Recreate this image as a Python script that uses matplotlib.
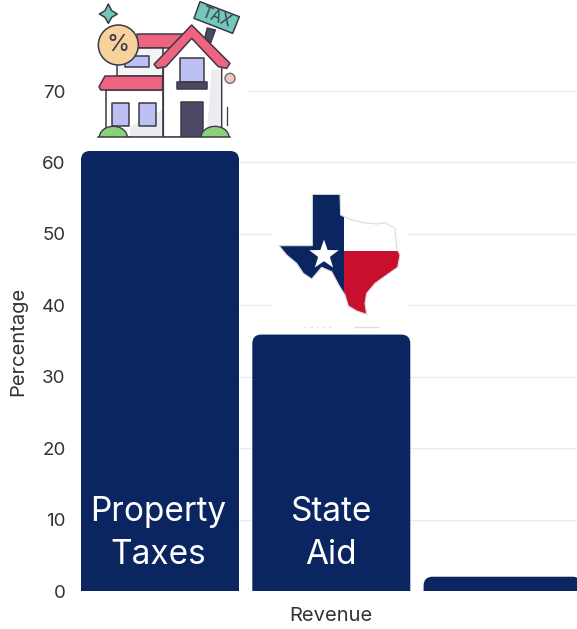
#!/usr/bin/env python3

import numpy as np
import matplotlib
matplotlib.use('Agg')
import matplotlib.pyplot as plt
from matplotlib.path import Path
from matplotlib.patches import PathPatch, Polygon, Rectangle, Circle, Ellipse

plt.rcParams['font.family'] = ['Inter', 'DejaVu Sans']

categories = ['Property\nTaxes', 'State\nAid', '']
values = [61.6, 35.9, 2.0]
y_ticks = [0, 10, 20, 30, 40, 50, 60, 70]

NAVY = '#0b2560'
INK = '#3a3a48'
PINK = '#f0637f'
LILAC = '#bcc0f2'
TEAL = '#72c9ba'
GREEN = '#8dd07c'


def rounded_top_bar(x, height, width, rx, ry):
    # bar path with only the two top corners rounded, in data units
    left, right = x - width / 2, x + width / 2
    ry = min(ry, height)
    verts = [(left, 0), (left, height - ry), (left, height), (left + rx, height),
             (right - rx, height), (right, height), (right, height - ry),
             (right, 0), (left, 0)]
    codes = [Path.MOVETO, Path.LINETO, Path.CURVE3, Path.CURVE3,
             Path.LINETO, Path.CURVE3, Path.CURVE3,
             Path.LINETO, Path.CLOSEPOLY]
    return Path(verts, codes)


def draw_house(ov):
    # icon drawn on a 3x grid, shifted into place
    def p(pts):
        return [(80 + a / 3, b / 3) for a, b in pts]

    def box(x0, y0, x1, y1):
        return p([(x0, y0), (x1, y0), (x1, y1), (x0, y1)])

    def shape(pts, fc, lw=1.1, ec=INK):
        ov.add_patch(Polygon(pts, closed=True, fc=fc, ec=ec, lw=lw, joinstyle='round'))

    # white block hiding the gridline behind the icon
    ov.add_patch(Rectangle((66, 0), 182, 150, fc='white', ec='none'))

    shape(p([(85, 12), (95, 32), (112, 42), (95, 52), (85, 70), (75, 52), (58, 42), (75, 32)]), TEAL)
    shape(box(170, 103, 310, 145), PINK)
    shape(box(110, 145, 250, 228), '#f4f4f6')
    shape(box(135, 168, 208, 200), LILAC)
    shape(box(78, 270, 248, 412), 'white')
    ov.add_patch(Polygon(p([(150, 380), (246, 330), (246, 410), (150, 410)]), fc='#ececf0', ec='none'))
    shape(p([(75, 228), (248, 228), (248, 270), (62, 270), (57, 260)]), PINK)
    shape(box(97, 308, 147, 378), LILAC)
    shape(box(178, 308, 228, 378), LILAC)

    # post and tilted sign
    shape(p([(382, 84), (406, 90), (392, 128), (372, 122)]), '#4a4a5e')
    shape(p([(360, 5), (478, 50), (458, 100), (342, 55)]), TEAL)
    ov.text(80 + 410 / 3, 52 / 3, 'TAX', rotation=-21, ha='center', va='center',
            fontsize=11, color=INK)

    shape(p([(250, 195), (335, 110), (425, 200), (425, 412), (250, 412)]), 'white')
    ov.add_patch(Polygon(p([(395, 210), (423, 205), (423, 410), (380, 410)]), fc='#ececf0', ec='none'))
    shape(p([(222, 193), (335, 75), (450, 190), (440, 205), (415, 200), (335, 115), (258, 200), (232, 205)]), PINK)
    shape(box(300, 175, 372, 245), LILAC)
    shape(box(290, 245, 382, 267), '#4a4a5e')
    shape(box(302, 305, 370, 412), '#4d4863')

    # bushes, cut flat by the ground
    for cx in [100, 405]:
        ov.add_patch(Ellipse((80 + cx / 3, 412 / 3), 84 / 3, 66 / 3, fc=GREEN, ec=INK, lw=1.0))
    ov.add_patch(Rectangle((80 + 50 / 3, 412 / 3), 410 / 3, 36 / 3, fc='white', ec='none'))
    ov.plot([80 + 55 / 3, 80 + 450 / 3], [412 / 3, 412 / 3], color=INK, lw=1.1)
    ov.plot([80 + 440 / 3] * 2, [320 / 3, 375 / 3], color=INK, lw=0.9)
    ov.add_patch(Circle((80 + 450 / 3, 235 / 3), 5, fc='#efc9c0', ec='#777', lw=1.1))

    # percent badge
    ov.add_patch(Circle((80 + 115 / 3, 135 / 3), 20, fc='#f8d29c', ec=INK, lw=1.1, zorder=3))
    ov.text(80 + 115 / 3, 135 / 3, '%', ha='center', va='center', fontsize=17,
            color=INK, zorder=4)


def draw_texas(ov):
    def p(pts):
        return [(250 + a / 3, 180 + b / 3) for a, b in pts]

    outline = p([(187, 43), (270, 43), (272, 105), (300, 118), (340, 128), (380, 132),
                 (405, 128), (435, 145), (440, 205), (450, 225), (443, 262), (410, 285),
                 (375, 310), (350, 340), (345, 370), (350, 403), (320, 393), (295, 378),
                 (285, 345), (268, 318), (245, 275), (215, 262), (185, 297), (160, 280),
                 (140, 250), (110, 225), (87, 197), (187, 197)])

    ov.add_patch(Rectangle((272, 192), 136, 140, fc='white', ec='none'))
    state = Polygon(outline, closed=True, fc='none', ec='#dcdcdc', lw=0.8, zorder=3)
    ov.add_patch(state)
    fields = [((343, 190, 65, 71), 'white'),
              ((343, 250.5, 65, 70), '#c8102e'),
              ((270, 190, 73.5, 130), NAVY)]
    for (x, y, w, h), c in fields:
        r = Rectangle((x, y), w, h, fc=c, ec='none', zorder=2)
        ov.add_patch(r)
        r.set_clip_path(state)

    # five pointed star
    cx, cy = 250 + 222 / 3, 180 + 225 / 3
    ang = np.deg2rad(np.arange(10) * 36 - 90)
    rad = np.where(np.arange(10) % 2 == 0, 15.5, 6.2)
    ov.add_patch(Polygon(np.c_[cx + rad * np.cos(ang), cy + rad * np.sin(ang)],
                         closed=True, fc='white', ec='none', zorder=4))

    # faint marks under the state
    ov.plot([304, 335], [327, 327], color='#e2e2e2', lw=1, ls=(0, (1.5, 3)))
    ov.plot([355, 378], [327, 327], color='#dcdcdc', lw=1)


fig = plt.figure(figsize=(5.77, 6.29), dpi=100)

# 171 px bands, the last bar runs past the right edge
band = 171.3
x0 = 160
ax = fig.add_axes([81 / 577, (629 - 591) / 629, (577 - 81) / 577, 500 / 629])
ax.set_xlim((81 - x0) / band, (577 - x0) / band)
ax.set_ylim(0, 70)

x = np.arange(len(values))
for xi, v in zip(x, values):
    bar = rounded_top_bar(xi, v, 158 / band, 9 / band, 9 / (500 / 70))
    ax.add_patch(PathPatch(bar, fc=NAVY, ec='none', zorder=3, clip_on=False))

for xi, label in zip(x, categories):
    ax.text(xi - (2 if xi == 0 else 0) / band, 20 / 500, label, ha='center', va='bottom',
            color='white', fontsize=24, linespacing=1.43, zorder=4,
            transform=ax.get_xaxis_transform())

ax.set_xticks([])
ax.set_yticks(y_ticks)
ax.grid(axis='y', color='#ebebeb', lw=1)
ax.set_axisbelow(True)
ax.tick_params(axis='y', length=0, pad=11, labelsize=13.5, labelcolor='#333333')
for s in ax.spines.values():
    s.set_visible(False)

ov = fig.add_axes([0, 0, 1, 1], zorder=5)
ov.set_xlim(0, 577)
ov.set_ylim(629, 0)
ov.axis('off')
ov.patch.set_alpha(0)

draw_house(ov)
draw_texas(ov)

fig.text(18 / 577, 1 - 341 / 629, 'Percentage', rotation=90, ha='center', va='center',
         fontsize=14.5, color='#333333')
fig.text(331 / 577, 1 - 616 / 629, 'Revenue', ha='center', va='center',
         fontsize=14.5, color='#333333')

fig.savefig('out.png', dpi=100)
